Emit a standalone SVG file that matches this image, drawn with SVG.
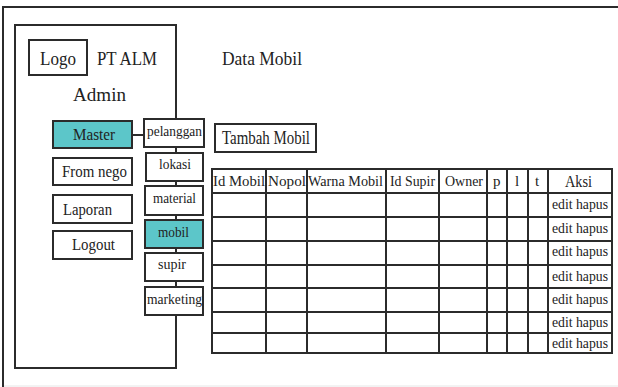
<svg xmlns="http://www.w3.org/2000/svg" width="618" height="387" viewBox="0 0 618 387" font-family="Liberation Serif, serif">
<style>
.box{fill:#fff;stroke:#2b2b2b;stroke-width:2}
.teal{fill:#5cc6c9;stroke:#2b2b2b;stroke-width:2}
.ln{stroke:#2b2b2b;stroke-width:2;fill:none}
text{font-family:'Liberation Serif','Times New Roman',serif;fill:#222;text-anchor:start}
.s19{font-size:19px}
.s18{font-size:18px}
.s16{font-size:16px}
.s15{font-size:15px}
.s14{font-size:14.5px}
</style>
<rect x="0" y="0" width="618" height="387" fill="#fff"/>
<g id="frame">
<line class="ln" x1="3" y1="7" x2="618" y2="7"/>
<line class="ln" x1="3" y1="6" x2="3" y2="387"/>
<line x1="4" y1="386" x2="618" y2="386" stroke="#e6e6e6" stroke-width="1"/>
</g>
<g id="sidebar">
<rect class="box" x="15" y="25" width="161" height="343"/>
</g>
<g id="logo"><rect class="box" x="29" y="40" width="58" height="35"/><text class="s18" x="40" y="65" textLength="36" lengthAdjust="spacingAndGlyphs">Logo</text></g>
<g id="ptalm"><text class="s18" x="97" y="65" textLength="60" lengthAdjust="spacingAndGlyphs">PT ALM</text></g>
<g id="admin"><text class="s19" x="73" y="101" textLength="53" lengthAdjust="spacingAndGlyphs">Admin</text></g>
<g id="title"><text class="s18" x="222" y="65" textLength="80" lengthAdjust="spacingAndGlyphs">Data Mobil</text></g>
<g id="connectors">
<line class="ln" x1="132" y1="135" x2="144" y2="135"/>
</g>
<g id="master"><rect class="teal" x="53" y="121" width="79" height="27"/><text class="s16" x="73" y="140" textLength="42" lengthAdjust="spacingAndGlyphs">Master</text></g>
<g id="fromnego"><rect class="box" x="53" y="158" width="79" height="27"/><text class="s16" x="62" y="177" textLength="65" lengthAdjust="spacingAndGlyphs">From nego</text></g>
<g id="laporan"><rect class="box" x="53" y="195" width="79" height="28"/><text class="s16" x="63" y="215" textLength="49" lengthAdjust="spacingAndGlyphs">Laporan</text></g>
<g id="logout"><rect class="box" x="53" y="231" width="79" height="28"/><text class="s16" x="72" y="250" textLength="43" lengthAdjust="spacingAndGlyphs">Logout</text></g>
<g id="pelanggan"><rect class="box" x="144" y="119" width="60" height="28"/><text class="s15" x="147" y="136" textLength="55" lengthAdjust="spacingAndGlyphs">pelanggan</text></g>
<g id="lokasi"><rect class="box" x="146" y="153" width="57" height="28"/><text class="s15" x="159" y="169" textLength="32" lengthAdjust="spacingAndGlyphs">lokasi</text></g>
<g id="material"><rect class="box" x="145" y="186" width="58" height="29"/><text class="s15" x="153" y="203" textLength="43" lengthAdjust="spacingAndGlyphs">material</text></g>
<g id="mobil"><rect class="teal" x="145" y="220" width="58" height="28"/><text class="s15" x="158" y="237" textLength="31" lengthAdjust="spacingAndGlyphs">mobil</text></g>
<g id="supir"><rect class="box" x="145" y="253" width="58" height="28"/><text class="s15" x="158" y="269" textLength="28" lengthAdjust="spacingAndGlyphs">supir</text></g>
<g id="marketing"><rect class="box" x="145" y="287" width="58" height="28"/><text class="s15" x="147" y="304" textLength="55" lengthAdjust="spacingAndGlyphs">marketing</text></g>
<g id="tambah"><rect class="box" x="215" y="124" width="101" height="28"/><text class="s18" x="222" y="144" textLength="88" lengthAdjust="spacingAndGlyphs">Tambah Mobil</text></g>
<g id="table">
<rect class="ln" x="212" y="169" width="400" height="184"/>
<g class="ln">
<line x1="212" y1="193" x2="612" y2="193"/>
<line x1="212" y1="217" x2="612" y2="217"/>
<line x1="212" y1="241" x2="612" y2="241"/>
<line x1="212" y1="265" x2="612" y2="265"/>
<line x1="212" y1="288" x2="612" y2="288"/>
<line x1="212" y1="312" x2="612" y2="312"/>
<line x1="212" y1="333" x2="612" y2="333"/>
<line x1="266" y1="169" x2="266" y2="353"/>
<line x1="307" y1="169" x2="307" y2="353"/>
<line x1="386" y1="169" x2="386" y2="353"/>
<line x1="439" y1="169" x2="439" y2="353"/>
<line x1="487" y1="169" x2="487" y2="353"/>
<line x1="507" y1="169" x2="507" y2="353"/>
<line x1="528" y1="169" x2="528" y2="353"/>
<line x1="548" y1="169" x2="548" y2="353"/>
</g>
<text class="s15" x="213" y="186" textLength="52" lengthAdjust="spacingAndGlyphs">Id Mobil</text>
<text class="s15" x="268" y="186" textLength="38" lengthAdjust="spacingAndGlyphs">Nopol</text>
<text class="s15" x="308" y="186" textLength="75" lengthAdjust="spacingAndGlyphs">Warna Mobil</text>
<text class="s15" x="390" y="186" textLength="45" lengthAdjust="spacingAndGlyphs">Id Supir</text>
<text class="s15" x="445" y="186" textLength="38" lengthAdjust="spacingAndGlyphs">Owner</text>
<text class="s15" x="493" y="186">p</text>
<text class="s15" x="515" y="186">l</text>
<text class="s15" x="535" y="186">t</text>
<text class="s16" x="565" y="187" textLength="27" lengthAdjust="spacingAndGlyphs">Aksi</text>
<g class="s14">
<text x="552" y="209" textLength="56" lengthAdjust="spacingAndGlyphs">edit hapus</text>
<text x="552" y="233" textLength="56" lengthAdjust="spacingAndGlyphs">edit hapus</text>
<text x="552" y="256" textLength="56" lengthAdjust="spacingAndGlyphs">edit hapus</text>
<text x="552" y="281" textLength="56" lengthAdjust="spacingAndGlyphs">edit hapus</text>
<text x="552" y="304" textLength="56" lengthAdjust="spacingAndGlyphs">edit hapus</text>
<text x="552" y="327" textLength="56" lengthAdjust="spacingAndGlyphs">edit hapus</text>
<text x="552" y="348" textLength="56" lengthAdjust="spacingAndGlyphs">edit hapus</text>
</g>
</g>
</svg>
